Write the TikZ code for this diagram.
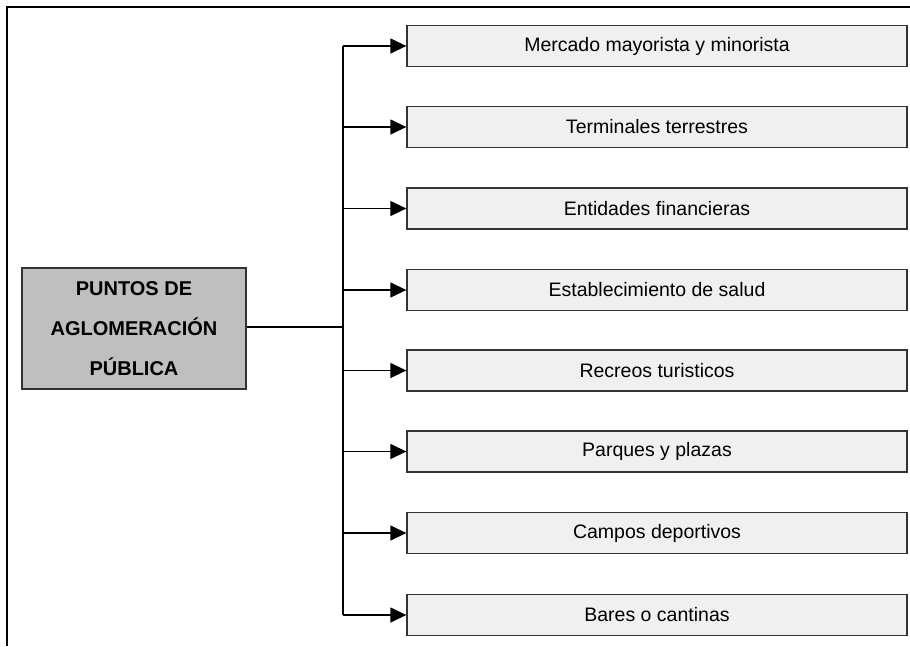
\documentclass[tikz,border=0pt]{standalone}
\usepackage{fontspec}
\setmainfont{Liberation Sans}
\usetikzlibrary{arrows.meta}
\tikzset{
  item/.style={draw=black!80, fill=black!6, line width=1.3pt, minimum width=500pt, minimum height=41pt, inner sep=0pt, font=\fontsize{19.5}{23}\selectfont},
  head/.style={draw=black!80, fill=black!25, line width=1.3pt, minimum width=224pt, minimum height=121pt, inner sep=0pt, align=center, font=\bfseries\fontsize{20}{40}\selectfont},
  link/.style={line width=1.3pt, -{Triangle[length=16pt,width=15pt]}},
  trunk/.style={line width=1.3pt}
}
\begin{document}
\begin{tikzpicture}[x=1pt,y=-1pt]
\useasboundingbox (0,0) rectangle (910,646);
\draw[line width=1.5pt] (7,646) -- (7,7) -- (910,7);

\node[head] (puntos) at (134,328.5) {PUNTOS DE\\AGLOMERACIÓN\\PÚBLICA};

\node[item] (m1) at (657,46) {Mercado mayorista y minorista};
\node[item] (m2) at (657,127) {Terminales terrestres};
\node[item] (m3) at (657,208.5) {Entidades financieras};
\node[item] (m4) at (657,290) {Establecimiento de salud};
\node[item] (m5) at (657,370.5) {Recreos turisticos};
\node[item] (m6) at (657,451.5) {Parques y plazas};
\node[item] (m7) at (657,533) {Campos deportivos};
\node[item] (m8) at (657,615) {Bares o cantinas};

\coordinate (j) at (343,327);
\draw[trunk] (puntos.east |- j) -- (j);
\draw[trunk] (j |- m1) -- (j |- m8);
\draw[link] (j |- m1) -- (m1.west);
\draw[link] (j |- m2) -- (m2.west);
\draw[link] (j |- m3) -- (m3.west);
\draw[link] (j |- m4) -- (m4.west);
\draw[link] (j |- m5) -- (m5.west);
\draw[link] (j |- m6) -- (m6.west);
\draw[link] (j |- m7) -- (m7.west);
\draw[link] (j |- m8) -- (m8.west);

\end{tikzpicture}
\end{document}
